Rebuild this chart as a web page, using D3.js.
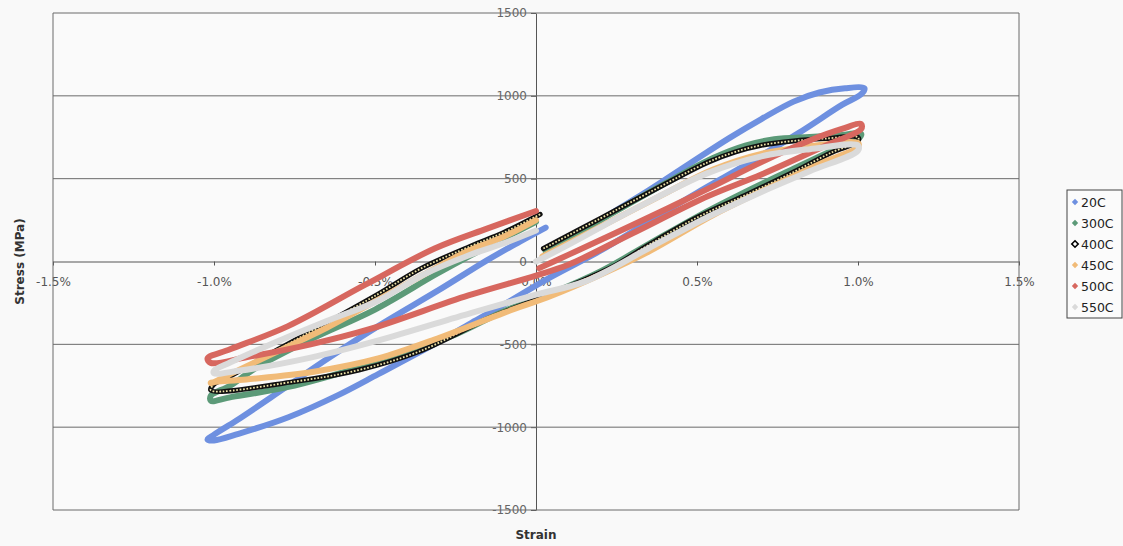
<!DOCTYPE html>
<html>
<head>
<meta charset="utf-8">
<script src="https://cdn.jsdelivr.net/npm/d3@7"></script>
<style>
  html, body { margin: 0; padding: 0; background: #f9f9f9; }
  svg { display: block; }
</style>
</head>
<body>
<svg id="chart" width="1123" height="546"></svg>
<script>
// Hysteresis loops, stress (MPa) against strain (%), one loop per test temperature.
// Each loop runs: tensile reloading branch -> tensile tip -> unloading/compression branch
// -> compressive tip -> reloading branch back towards zero strain.
const seriesNames = ["20C", "300C", "400C", "450C", "500C", "550C"];
const strainTicks = [-1.5, -1.0, -0.5, 0.0, 0.5, 1.0, 1.5];
const stressTicks = [-1500, -1000, -500, 0, 500, 1000, 1500];

const loop20C = [
  [0.05, 60], [0.2, 250], [0.35, 430], [0.48, 595], [0.6, 745], [0.7, 860], [0.8, 965],
  [0.88, 1020], [0.96, 1046], [1.02, 1045],
  [1.01, 1010], [0.95, 945], [0.815, 775], [0.63, 560], [0.5, 415], [0.35, 240], [0.2, 65],
  [0.04, -100], [-0.1, -260], [-0.2, -370], [-0.35, -535], [-0.49, -680],
  [-0.613, -805], [-0.769, -940], [-0.924, -1040], [-1.0, -1080], [-1.02, -1075],
  [-1.0, -1045], [-0.93, -960], [-0.8, -790], [-0.65, -590], [-0.49, -390], [-0.3, -170],
  [-0.15, 10], [-0.05, 120], [0.03, 205]
];

const loop300C = [
  [0.03, 60], [0.2, 250], [0.4, 470], [0.55, 625], [0.65, 700], [0.74, 738], [0.85, 752],
  [0.94, 762], [1.01, 770],
  [1.0, 740], [0.92, 670], [0.8, 560], [0.65, 420], [0.5, 270], [0.35, 105], [0.2, -60],
  [0.05, -190], [-0.1, -300], [-0.25, -440], [-0.417, -556], [-0.55, -640], [-0.769, -757],
  [-0.95, -820], [-1.01, -840],
  [-1.01, -810], [-0.95, -750], [-0.872, -645], [-0.7, -470], [-0.5, -290], [-0.313, -80],
  [-0.2, 40], [-0.1, 140], [0.0, 240]
];

const loop400C = [
  [0.023, 78], [0.2, 260], [0.35, 415], [0.535, 600], [0.62, 662], [0.7, 702], [0.8, 728],
  [0.9, 742], [1.0, 750],
  [1.0, 725], [0.92, 660], [0.8, 540], [0.65, 400], [0.5, 265], [0.35, 100], [0.24, -30],
  [0.12, -135], [0.0, -230], [-0.15, -345], [-0.365, -545], [-0.55, -655],
  [-0.75, -725], [-1.01, -777],
  [-1.0, -740], [-0.955, -697], [-0.8, -530], [-0.65, -370], [-0.489, -195], [-0.355, -40],
  [-0.2, 95], [-0.1, 175], [0.013, 285]
];

const loop450C = [
  [0.02, 30], [0.2, 210], [0.4, 410], [0.55, 555], [0.7, 650], [0.85, 695], [1.0, 715],
  [1.0, 690], [0.9, 605], [0.75, 470], [0.55, 280], [0.35, 60], [0.2, -80], [0.05, -205],
  [-0.1, -310], [-0.3, -460], [-0.49, -585], [-0.69, -665], [-0.9, -712], [-1.01, -732],
  [-1.01, -735], [-0.95, -680], [-0.8, -540], [-0.65, -400], [-0.49, -230], [-0.35, -80],
  [-0.21, 65], [-0.1, 150], [0.0, 250]
];

const loop500C = [
  [0.01, -40], [0.1, 40], [0.3, 220], [0.535, 440], [0.7, 600], [0.85, 730], [0.95, 800],
  [1.01, 830],
  [1.01, 800], [0.9, 700], [0.7, 525], [0.535, 395], [0.3, 170], [0.1, -20], [0.0, -85],
  [-0.21, -205], [-0.52, -410], [-0.7, -500], [-0.9, -578], [-1.01, -612],
  [-1.02, -585], [-0.95, -530], [-0.77, -390], [-0.53, -140], [-0.313, 80], [-0.15, 200],
  [0.0, 305]
];

const loop550C = [
  [0.0, 0], [0.1, 100], [0.3, 310], [0.535, 535], [0.7, 635], [0.85, 678], [1.0, 700],
  [1.0, 670], [0.85, 545], [0.7, 420], [0.535, 270], [0.35, 80], [0.153, -120], [0.0, -200],
  [-0.2, -310], [-0.489, -476], [-0.7, -580], [-0.924, -660], [-1.0, -675],
  [-1.0, -660], [-0.95, -610], [-0.8, -480], [-0.65, -360], [-0.489, -235], [-0.35, -80],
  [-0.21, 36], [-0.1, 110], [0.0, 187]
];

const loops = [loop20C, loop300C, loop400C, loop450C, loop500C, loop550C];

// Presentation
const seriesStyle = {
  "20C":  { color: "#6e90e0" },
  "300C": { color: "#5c9a78" },
  "400C": { color: "#111111", hollow: true },
  "450C": { color: "#f1bb78" },
  "500C": { color: "#d7675f" },
  "550C": { color: "#dadada" }
};

const svg = d3.select("#chart");
const plot = { left: 53, right: 1019, top: 13, bottom: 510 };
const x = d3.scaleLinear().domain([-1.5, 1.5]).range([plot.left, plot.right]);
const y = d3.scaleLinear().domain([-1500, 1500]).range([plot.bottom, plot.top]);

const font = "'DejaVu Sans', Verdana, sans-serif";
const hyphenMinus = s => s.replace("\u2212", "-");

// plot area
svg.append("rect")
  .attr("x", plot.left).attr("y", plot.top)
  .attr("width", plot.right - plot.left).attr("height", plot.bottom - plot.top)
  .attr("fill", "#fafafa");

// axes crossing at the origin
const yAxis = d3.axisLeft(y).tickValues(stressTicks).tickSizeInner(5).tickSizeOuter(0)
  .tickPadding(4).tickFormat(d => hyphenMinus(d3.format("d")(d)));
const gy = svg.append("g").attr("transform", `translate(${x(0)},0)`).call(yAxis);
gy.selectAll("text").attr("font-family", font).attr("font-size", 12).attr("fill", "#666");
gy.selectAll("line").attr("stroke", "#555");
gy.select(".domain").attr("stroke", "#555");

const xAxis = d3.axisBottom(x).tickValues(strainTicks).tickSizeInner(4).tickSizeOuter(0)
  .tickPadding(12).tickFormat(d => hyphenMinus(d3.format(".1f")(d)) + "%");
const gx = svg.append("g").attr("transform", `translate(0,${y(0)})`).call(xAxis);
gx.selectAll("text").attr("font-family", font).attr("font-size", 12).attr("fill", "#555");
gx.selectAll("line").attr("stroke", "#555");
gx.select(".domain").attr("stroke", "#555");

// horizontal gridlines and plot border
svg.append("g").selectAll("line").data(stressTicks.filter(d => d !== 0)).join("line")
  .attr("x1", plot.left).attr("x2", plot.right)
  .attr("y1", d => y(d)).attr("y2", d => y(d))
  .attr("stroke", "#6a6a6a").attr("stroke-width", 1);
svg.append("g").selectAll("line").data([plot.left, plot.right]).join("line")
  .attr("x1", d => d).attr("x2", d => d)
  .attr("y1", plot.top).attr("y2", plot.bottom)
  .attr("stroke", "#6a6a6a").attr("stroke-width", 1);

// loops
const line = d3.line()
  .x(d => x(d[0])).y(d => y(d[1]))
  .curve(d3.curveCatmullRom.alpha(0.5));

const gLoops = svg.append("g");
seriesNames.forEach((name, i) => {
  const st = seriesStyle[name];
  gLoops.append("path")
    .datum(loops[i])
    .attr("d", line)
    .attr("fill", "none")
    .attr("stroke", st.color)
    .attr("stroke-width", st.hollow ? 5 : 6)
    .attr("stroke-linejoin", "round")
    .attr("stroke-linecap", "round");
  if (st.hollow) {
    gLoops.append("path")
      .datum(loops[i])
      .attr("d", line)
      .attr("fill", "none")
      .attr("stroke", "#eee3a6")
      .attr("stroke-width", 1.8)
      .attr("stroke-dasharray", "1.7 1.7");
  }
});

// axis titles
svg.append("text")
  .attr("transform", `translate(24,${y(0)}) rotate(-90)`)
  .attr("text-anchor", "middle")
  .attr("font-family", font).attr("font-size", 12).attr("font-weight", "bold")
  .attr("fill", "#333")
  .text("Stress (MPa)");
svg.append("text")
  .attr("x", x(0)).attr("y", 539)
  .attr("text-anchor", "middle")
  .attr("font-family", font).attr("font-size", 12).attr("font-weight", "bold")
  .attr("fill", "#333")
  .text("Strain");

// legend
const legend = svg.append("g").attr("transform", "translate(1067,190)");
legend.append("rect")
  .attr("width", 55).attr("height", 128)
  .attr("fill", "#fbfbfb").attr("stroke", "#444").attr("stroke-width", 1);
const diamond = d3.symbol().type(d3.symbolDiamond2).size(26);
seriesNames.forEach((name, i) => {
  const st = seriesStyle[name];
  const row = legend.append("g").attr("transform", `translate(8,${12 + i * 21})`);
  row.append("path")
    .attr("d", diamond)
    .attr("fill", st.hollow ? "#ffffff" : st.color)
    .attr("stroke", st.hollow ? "#000" : "none")
    .attr("stroke-width", st.hollow ? 1.6 : 0);
  row.append("text")
    .attr("x", 6).attr("y", 4.5)
    .attr("font-family", font).attr("font-size", 12.5)
    .attr("fill", "#222")
    .text(name);
});
</script>
</body>
</html>
